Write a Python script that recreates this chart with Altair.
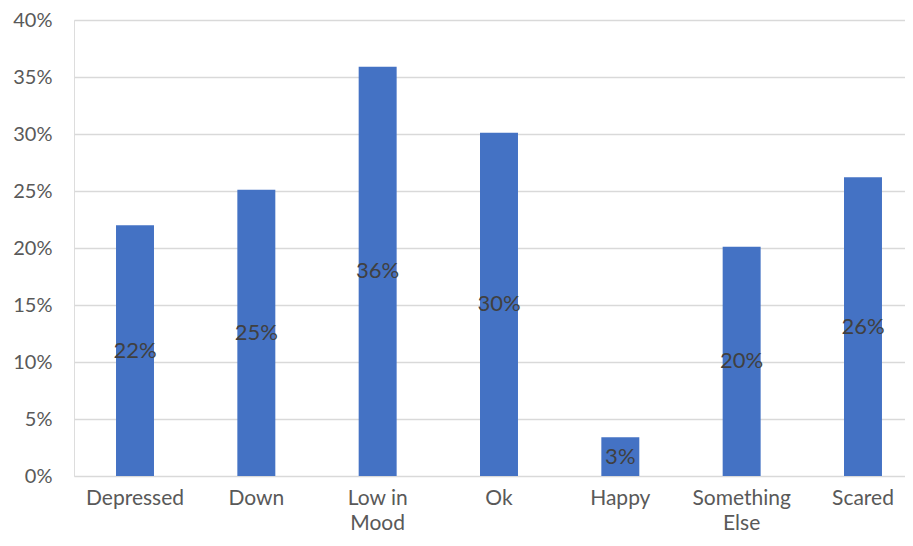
import altair as alt
import pandas as pd

categories = ["Depressed", "Down", "Low in Mood", "Ok", "Happy", "Something Else", "Scared"]
values = [0.220, 0.251, 0.359, 0.301, 0.034, 0.201, 0.262]

df = pd.DataFrame({"category": categories, "value": values})

FONT = "Lato"

xscale = alt.Scale(paddingInner=0.687, paddingOuter=0.268, align=0.646)

x = alt.X(
    "category:N",
    sort=categories,
    title=None,
    scale=xscale,
    axis=alt.Axis(
        labelAngle=0,
        labelFont=FONT,
        labelFontSize=21,
        labelColor="#595959",
        labelPadding=11,
        labelLineHeight=25,
        labelBaseline="top",
        ticks=False,
        domain=False,
        grid=False,
        labelExpr="datum.label == 'Low in Mood' ? ['Low in', 'Mood'] : datum.label == 'Something Else' ? ['Something', 'Else'] : datum.label",
    ),
)

y = alt.Y(
    "value:Q",
    title=None,
    scale=alt.Scale(domain=[0, 0.4], nice=False),
    axis=alt.Axis(
        format=".0%",
        values=[0, 0.05, 0.1, 0.15, 0.2, 0.25, 0.3, 0.35, 0.4],
        labelFont=FONT,
        labelFontSize=20,
        labelColor="#595959",
        labelPadding=22,
        ticks=False,
        domain=False,
        grid=True,
        gridColor="#d9d9d9",
        gridWidth=1.5,
    ),
)

bars = alt.Chart(df).mark_bar(color="#4472C4").encode(x=x, y=y)

labels = alt.Chart(df).transform_calculate(mid="datum.value / 2").mark_text(
    font=FONT, fontSize=22, color="#404040", baseline="middle", align="center"
).encode(
    x=alt.X("category:N", sort=categories, title=None),
    y=alt.Y("mid:Q", title=None),
    text=alt.Text("value:Q", format=".0%"),
)

chart = (
    alt.layer(bars, labels)
    .properties(
        width=831,
        height=456,
        autosize=alt.AutoSizeParams(type="none"),
        padding={"left": 66, "top": 12, "right": 0, "bottom": 62},
    )
    .configure_view(strokeWidth=0, stroke="transparent")
    .configure(background="white")
)

chart.save("out.html", embed_options={"renderer": "svg", "actions": False})
